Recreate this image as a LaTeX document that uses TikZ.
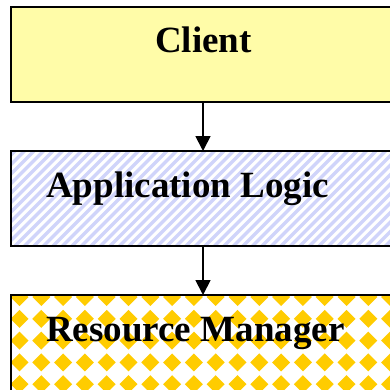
\documentclass[tikz,border=0pt]{standalone}
\usepackage{fontspec}
\setmainfont{Liberation Serif}
\usetikzlibrary{arrows.meta}

\definecolor{clientyellow}{RGB}{255,252,168}
\definecolor{hatchblue}{RGB}{208,212,250}
\definecolor{diamondgold}{RGB}{255,204,0}

\tikzset{
  layerbox/.style={draw=black, line width=2.2pt, rectangle, inner sep=0pt,
    outer sep=0pt, minimum width=400pt, anchor=north west},
  boxframe/.style={draw=black, line width=2.2pt},
  layertext/.style={font=\fontsize{37}{40}\selectfont\bfseries, inner sep=0pt},
  flow/.style={line width=1.8pt, -{Triangle[width=15pt,length=15pt]}},
}

\begin{document}
\begin{tikzpicture}[x=1pt, y=1pt]
  \clip (0,0) rectangle (390,389);
  \fill[white] (0,0) rectangle (390,389);

  % three stacked layers
  \node[layerbox, fill=clientyellow, minimum height=95pt] (client) at (11,382) {};
  \node[layerbox, fill=white, minimum height=95pt] (app) at (11,238) {};
  \node[layerbox, fill=white, minimum height=110pt] (rm) at (11,94) {};

  % diagonal hatching of the application layer
  \begin{scope}
    \clip (app.north west) rectangle (app.south east);
    \foreach \c in {-150,-140.5,...,450}
      \draw[hatchblue, line width=3.3pt] (\c,130) -- (\c+120,250);
  \end{scope}
  \draw[boxframe] (app.north west) rectangle (app.south east);

  % gold diamond grid of the resource layer
  \begin{scope}
    \clip (rm.north west) rectangle (rm.south east);
    \foreach \i in {0,...,18}
      \foreach \j in {0,...,5}
        \fill[diamondgold]
          (19.5+21.8*\i, 92-21.8*\j+9) -- ++(9,-9) -- ++(-9,-9) -- ++(-9,9) -- cycle;
  \end{scope}
  \draw[boxframe] (rm.north west) rectangle (rm.south east);

  % layer names
  \node[layertext, anchor=base] (clientlabel) at (203.5,336) {Client};
  \node[layertext, anchor=base west] (applabel) at (46,192) {Application Logic};
  \node[layertext, anchor=base west] (rmlabel) at (46,47.5) {Resource Manager};

  % calls flow downward
  \coordinate (axis) at (203,0);
  \draw[flow] (client.south -| axis) -- (app.north -| axis);
  \draw[flow] (app.south -| axis) -- (rm.north -| axis);
\end{tikzpicture}
\end{document}
